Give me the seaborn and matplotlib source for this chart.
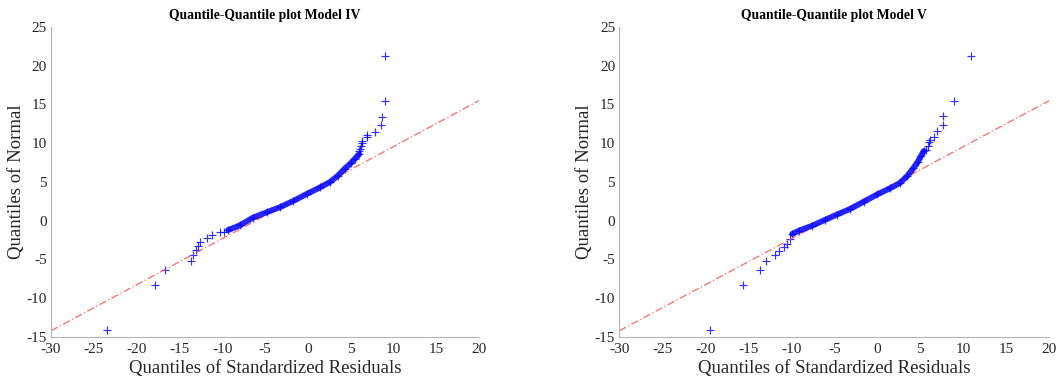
import matplotlib
matplotlib.use("Agg")
import matplotlib.pyplot as plt
import seaborn as sns

sns.set_theme(style="white")
plt.rcParams['font.family'] = ['Liberation Serif', 'DejaVu Serif']

# ---- Model IV: dense body of the Q-Q curve (residual quantile, normal quantile)
m4_body_x = [-9.3, -7.95, -6.4, -4.8, -3.25, -1.7, -0.13, 1.43, 2.6, 3.5,
             4.3, 5.0, 5.5, 6.0]
m4_body_y = [-1.2, -0.6, 0.4, 1.1, 1.75, 2.55, 3.45, 4.3, 5.0, 5.8,
             6.7, 7.4, 8.0, 8.6]
# ---- Model IV: sparse tail points
m4_tail_x = [-23.45, -17.9, -16.7, -13.6, -13.4, -13.1, -12.85, -12.55, -11.8,
             -11.2, -10.25, -9.8, 6.0, 6.1, 6.2, 6.3, 6.3, 6.9, 6.9, 7.8, 8.5,
             8.7, 9.0, 9.0]
m4_tail_y = [-14.15, -8.3, -6.3, -5.2, -4.45, -3.8, -3.25, -2.7, -2.25,
             -1.85, -1.5, -1.4, 9.0, 9.3, 9.6, 10.0, 10.3, 10.8, 11.1, 11.5, 12.4,
             13.4, 15.5, 21.3]

# ---- Model V: dense body
m5_body_x = [-9.9, -9.15, -7.6, -6.1, -4.7, -3.2, -1.6, 0.0, 1.5, 2.6,
             3.5, 4.2, 4.7, 5.1, 5.4]
m5_body_y = [-1.7, -1.3, -0.65, 0.1, 0.8, 1.5, 2.45, 3.4, 4.2, 4.85,
             5.8, 6.8, 7.6, 8.4, 9.0]
# ---- Model V: sparse tail points
m5_tail_x = [-19.5, -15.6, -13.6, -12.9, -11.85, -11.45, -10.9, -10.5, -10.2,
             5.6, 5.93, 6.05, 6.1, 6.6, 6.9, 7.6, 7.67, 8.95, 10.85]
m5_tail_y = [-14.15, -8.3, -6.3, -5.2, -4.45, -3.9, -3.45, -2.95, -2.4,
             9.1, 9.6, 10.2, 10.4, 10.8, 11.6, 12.4, 13.5, 15.5, 21.3]

# ---- reference lines (dash-dot), read at the axis ends
ref_x = [-30, 20]
ref_y = [-14.2, 15.5]

titles = ["Quantile-Quantile plot Model IV", "Quantile-Quantile plot Model V"]
x_ticks = [-30, -25, -20, -15, -10, -5, 0, 5, 10, 15, 20]
y_ticks = [-15, -10, -5, 0, 5, 10, 15, 20, 25]
xlabel = "Quantiles of Standardized Residuals"
ylabel = "Quantiles of Normal"

fig = plt.figure(figsize=(10.56, 3.78), dpi=100)
positions = [[0.0483, 0.1085, 0.4053, 0.8201], [0.5865, 0.1085, 0.4072, 0.8201]]
panels = [(m4_body_x, m4_body_y, m4_tail_x, m4_tail_y),
          (m5_body_x, m5_body_y, m5_tail_x, m5_tail_y)]

spine_col = "#b4b4b4"
text_col = "#262626"
blue = "#0000ff"
for pos, (bx, by, tx, ty), title in zip(positions, panels, titles):
    ax = fig.add_axes(pos)
    sns.lineplot(x=ref_x, y=ref_y, ax=ax, color="#ff5050", lw=0.9,
                 linestyle=(0, (6, 2, 1, 2)), alpha=0.85)
    sns.lineplot(x=bx, y=by, ax=ax, sort=False, color=blue, lw=4.2,
                 alpha=0.85, estimator=None, solid_capstyle="round")
    sns.scatterplot(x=bx, y=by, ax=ax, marker="+", color=blue, s=36,
                    linewidth=0.9, alpha=0.7)
    sns.scatterplot(x=tx, y=ty, ax=ax, marker="+", color=blue, s=28,
                    linewidth=0.85, alpha=0.8)
    ax.set_xlim(-30, 20)
    ax.set_ylim(-15, 25)
    ax.set_xticks(x_ticks)
    ax.set_yticks(y_ticks)
    ax.set_xticklabels([str(v) for v in x_ticks], fontsize=11, color=text_col)
    ax.set_yticklabels([str(v) for v in y_ticks], fontsize=11, color=text_col)
    ax.tick_params(direction="in", length=3.5, width=0.7, color=spine_col)
    ax.tick_params(axis="x", pad=4.5)
    ax.tick_params(axis="y", pad=3)
    for s in ["top", "right"]:
        ax.spines[s].set_visible(False)
    for s in ["left", "bottom"]:
        ax.spines[s].set_color(spine_col)
        ax.spines[s].set_linewidth(0.8)
    ax.set_xlabel(xlabel, fontsize=13.5, color=text_col, labelpad=3)
    ax.set_ylabel(ylabel, fontsize=13.5, color=text_col, labelpad=1)
    ax.set_title(title, fontsize=9.8, fontweight="bold", color="black", pad=6)
    ax.set_facecolor("white")

fig.savefig("out.png", dpi=100, facecolor="white")
